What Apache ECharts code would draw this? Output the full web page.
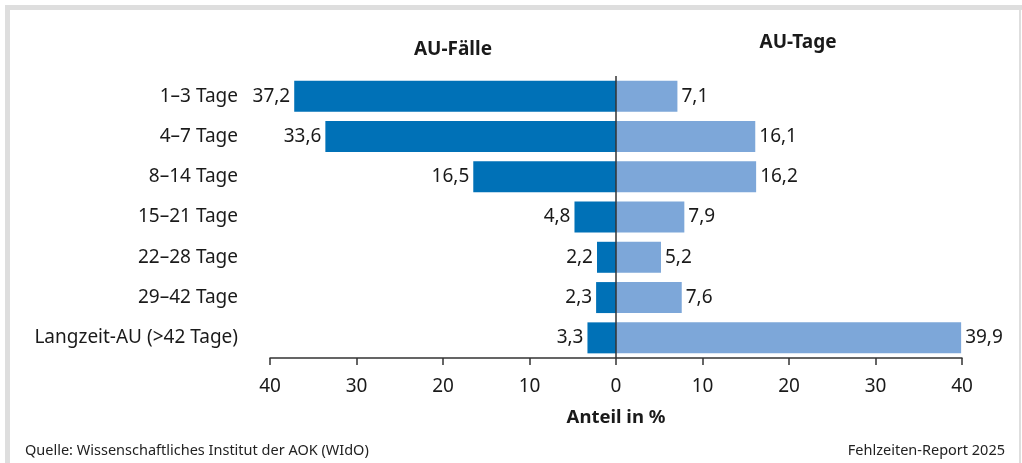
<!DOCTYPE html>
<html>
<head>
<meta charset="utf-8">
<script src="https://cdn.jsdelivr.net/npm/echarts@6/dist/echarts.min.js"></script>
<style>
  html, body { margin: 0; padding: 0; background: #fff; }
  #chart { width: 1022px; height: 463px; }
</style>
</head>
<body>
<div id="chart"></div>
<script>
// Falldauer-Klassen
const categories = [
  "1–3 Tage",
  "4–7 Tage",
  "8–14 Tage",
  "15–21 Tage",
  "22–28 Tage",
  "29–42 Tage",
  "Langzeit-AU (>42 Tage)"
];
const auFaelle = [37.2, 33.6, 16.5, 4.8, 2.2, 2.3, 3.3];
const auTage = [7.1, 16.1, 16.2, 7.9, 5.2, 7.6, 39.9];
const tickValues = [-40, -30, -20, -10, 0, 10, 20, 30, 40];

const FONT = "Noto Sans";
const fmt = v => Math.abs(v).toFixed(1).replace(".", ",");

const chart = echarts.init(document.getElementById("chart"));

const option = {
  animation: false,
  textStyle: { fontFamily: FONT },
  title: [
    {
      text: "AU-Fälle",
      left: 448, top: 35, textAlign: "center",
      textStyle: { fontFamily: FONT, fontSize: 19, fontWeight: "bold", color: "#1a1a1a" }
    },
    {
      text: "AU-Tage",
      left: 793, top: 28, textAlign: "center",
      textStyle: { fontFamily: FONT, fontSize: 19, fontWeight: "bold", color: "#1a1a1a" }
    },
    {
      text: "Quelle: Wissenschaftliches Institut der AOK (WIdO)",
      left: 20, top: 438,
      textStyle: { fontFamily: FONT, fontSize: 14.5, fontWeight: "normal", color: "#222" }
    },
    {
      text: "Fehlzeiten-Report 2025",
      right: 12, top: 438,
      textStyle: { fontFamily: FONT, fontSize: 14.5, fontWeight: "normal", color: "#222" }
    }
  ],
  graphic: [
    // grauer Rahmen
    { type: "rect", shape: { x: 5, y: 5, width: 1017, height: 5 }, style: { fill: "#dedede" }, silent: true },
    { type: "rect", shape: { x: 5, y: 5, width: 5, height: 458 }, style: { fill: "#dedede" }, silent: true },
    { type: "rect", shape: { x: 1019, y: 5, width: 2, height: 458 }, style: { fill: "#dedede" }, silent: true }
  ],
  grid: { left: 270, right: 60, top: 76, bottom: 105 },
  xAxis: {
    type: "value",
    min: -40, max: 40, interval: 10,
    axisLine: { show: true, lineStyle: { color: "#333", width: 1.5 } },
    axisTick: { show: true, length: 7, lineStyle: { color: "#333", width: 1.5 } },
    splitLine: { show: false },
    axisLabel: {
      margin: 19, fontSize: 19, color: "#1a1a1a", fontFamily: FONT,
      formatter: v => tickValues.includes(v) ? String(Math.abs(v)) : ""
    },
    name: "Anteil in %",
    nameLocation: "middle",
    nameGap: 50,
    nameTextStyle: { fontSize: 18.5, fontWeight: "bold", color: "#1a1a1a", fontFamily: FONT }
  },
  yAxis: {
    type: "category",
    inverse: true,
    data: categories,
    axisLine: { show: false },
    axisTick: { show: false },
    axisLabel: { margin: 32, fontSize: 19, color: "#1a1a1a", fontFamily: FONT }
  },
  series: [
    {
      name: "AU-Fälle",
      type: "bar",
      stack: "au",
      barWidth: 31,
      data: auFaelle.map(v => -v),
      itemStyle: { color: "#0071b7" },
      label: {
        show: true, position: "left", distance: 4,
        fontSize: 19, color: "#1a1a1a", fontFamily: FONT,
        formatter: p => fmt(p.value)
      },
      markLine: {
        silent: true,
        symbol: "none",
        label: { show: false },
        lineStyle: { color: "#333", width: 1.5, type: "solid" },
        data: [{ xAxis: 0 }]
      }
    },
    {
      name: "AU-Tage",
      type: "bar",
      stack: "au",
      barWidth: 31,
      data: auTage,
      itemStyle: { color: "#7da7d9" },
      label: {
        show: true, position: "right", distance: 4,
        fontSize: 19, color: "#1a1a1a", fontFamily: FONT,
        formatter: p => fmt(p.value)
      }
    }
  ]
};

chart.setOption(option);
window.addEventListener("resize", () => chart.resize());
</script>
</body>
</html>
